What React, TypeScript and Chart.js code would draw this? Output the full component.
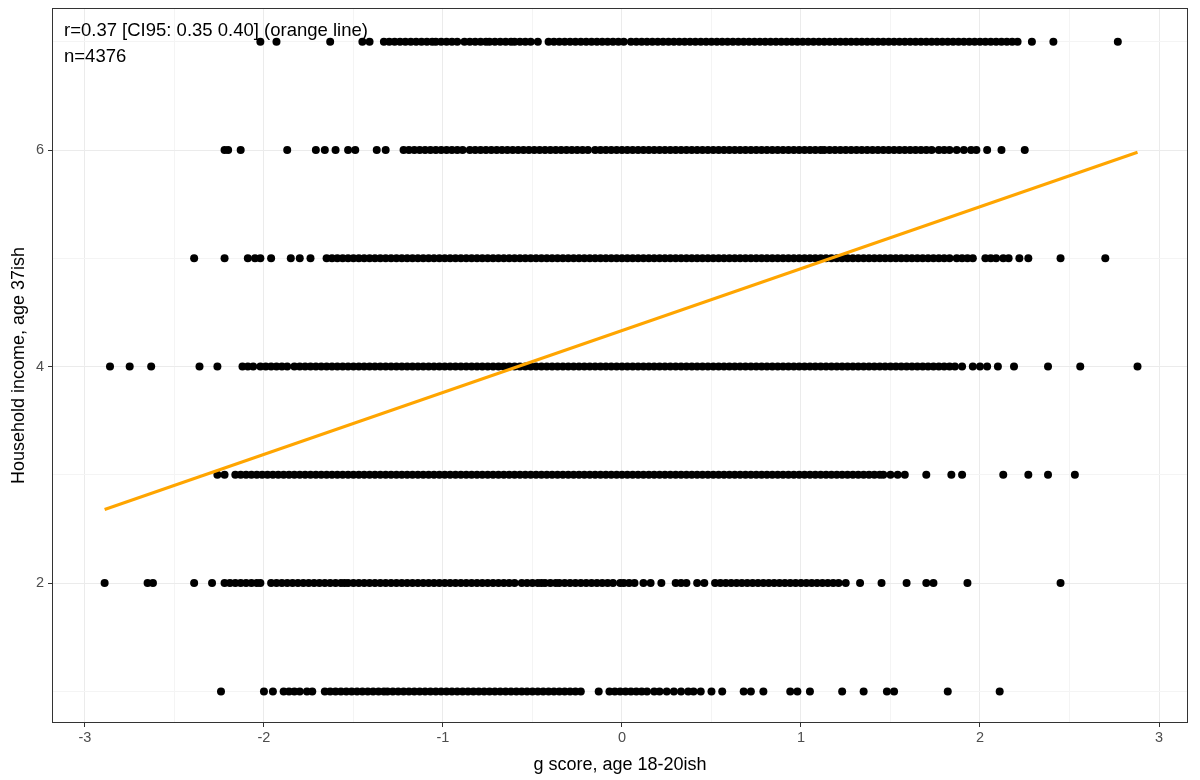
import React, { useEffect, useRef } from 'react';
import { Chart, registerables } from 'chart.js';

Chart.register(...registerables);

// Household income level (y) for each row of points
const incomeLevels = [1, 2, 3, 4, 5, 6, 7];

// g score values (x), one list per income level
const gIncome1 = [
  -2.24, -2.0, -1.95, -1.89, -1.86, -1.83, -1.8, -1.76, -1.73,
  -1.66, -1.63, -1.6, -1.57, -1.54, -1.51, -1.48, -1.45, -1.42, -1.39, -1.36, -1.33, -1.31,
  -1.28, -1.25, -1.22, -1.19, -1.16, -1.13, -1.1, -1.07, -1.04, -1.01, -0.98, -0.95, -0.92, -0.89, -0.86, -0.83, -0.8,
  -0.77, -0.74, -0.71, -0.68, -0.65, -0.62, -0.59, -0.56, -0.53, -0.5, -0.47, -0.44, -0.41, -0.38, -0.35, -0.32, -0.29, -0.26, -0.23,
  -0.13, -0.07, -0.04, -0.01, 0.02, 0.05, 0.08, 0.11, 0.14, 0.18, 0.21, 0.25, 0.29, 0.33, 0.37, 0.4, 0.44,
  0.5, 0.56, 0.68, 0.72, 0.79, 0.94, 0.98, 1.05, 1.23, 1.35, 1.48, 1.52, 1.82, 2.11,
];

const gIncome2 = [
  -2.89, -2.65, -2.62, -2.39, -2.29,
  -2.22, -2.19, -2.16, -2.13, -2.1, -2.07, -2.04, -2.02,
  -1.96, -1.93, -1.9, -1.87, -1.84, -1.81, -1.78,
  -1.75, -1.72, -1.69, -1.66, -1.63, -1.6, -1.57, -1.55,
  -1.53, -1.5, -1.47, -1.44, -1.41, -1.38, -1.35, -1.32, -1.29, -1.26, -1.23, -1.2, -1.17, -1.14, -1.11, -1.08,
  -1.05, -1.02, -0.99, -0.96, -0.93, -0.9, -0.87, -0.84, -0.81, -0.78, -0.75, -0.72, -0.69, -0.66, -0.63, -0.6,
  -0.56, -0.53, -0.5, -0.47, -0.45, -0.43, -0.4, -0.37, -0.35,
  -0.32, -0.29, -0.26, -0.23, -0.2, -0.17, -0.14, -0.11, -0.08, -0.05, -0.01,
  0.01, 0.04, 0.07, 0.12, 0.16, 0.22, 0.3, 0.33, 0.36, 0.42, 0.46,
  0.52, 0.55, 0.58, 0.61, 0.64, 0.67, 0.7, 0.73, 0.76, 0.79, 0.82, 0.85, 0.88, 0.91, 0.94, 0.97,
  1.0, 1.03, 1.06, 1.09, 1.12, 1.15, 1.18, 1.21, 1.25,
  1.33, 1.45, 1.59, 1.7, 1.74, 1.93, 2.45,
];

const gIncome3 = [
  -2.26, -2.22,
  -2.16, -2.13, -2.1, -2.07, -2.04, -2.01, -1.98, -1.95, -1.92, -1.89, -1.86, -1.83, -1.8,
  -1.77, -1.74, -1.71, -1.68, -1.65, -1.62, -1.59, -1.56, -1.53, -1.5, -1.47, -1.44, -1.41, -1.38, -1.35, -1.32,
  -1.29, -1.26, -1.23, -1.2, -1.17, -1.14, -1.11, -1.08, -1.05, -1.02, -0.99, -0.96, -0.93, -0.9, -0.87, -0.84,
  -0.81, -0.78, -0.75, -0.72, -0.69, -0.66, -0.63, -0.6, -0.57, -0.54, -0.51, -0.48, -0.45, -0.42, -0.39, -0.36,
  -0.33, -0.3, -0.27, -0.24, -0.21, -0.18, -0.15, -0.12, -0.09, -0.06, -0.03, 0.0, 0.03, 0.06, 0.09, 0.12,
  0.15, 0.18, 0.21, 0.24, 0.27, 0.3, 0.33, 0.36, 0.39, 0.42, 0.45, 0.48, 0.51, 0.54, 0.57, 0.6,
  0.63, 0.66, 0.69, 0.72, 0.75, 0.78, 0.81, 0.84, 0.87, 0.9, 0.93, 0.96, 0.99, 1.02, 1.05, 1.08,
  1.11, 1.14, 1.17, 1.2, 1.23, 1.26, 1.29, 1.32, 1.35, 1.38, 1.41, 1.44, 1.46,
  1.5, 1.54, 1.58, 1.7, 1.84, 1.9, 2.13, 2.27, 2.38, 2.53,
];

const gIncome4 = [
  -2.86, -2.75, -2.63, -2.36, -2.26,
  -2.12, -2.09, -2.06, -2.02, -1.99, -1.96, -1.93, -1.9, -1.87, -1.83, -1.8,
  -1.77, -1.74, -1.71, -1.68, -1.65, -1.62, -1.59, -1.56, -1.53, -1.5, -1.47, -1.44, -1.41, -1.38, -1.35, -1.32,
  -1.29, -1.26, -1.23, -1.2, -1.17, -1.14, -1.11, -1.08, -1.05, -1.02, -0.99, -0.96, -0.93, -0.9, -0.87, -0.84,
  -0.81, -0.78, -0.75, -0.72, -0.69, -0.66, -0.63, -0.6, -0.57, -0.54, -0.51, -0.48, -0.45, -0.42, -0.39, -0.36,
  -0.33, -0.3, -0.27, -0.24, -0.21, -0.18, -0.15, -0.12, -0.09, -0.06, -0.03, 0.0, 0.03, 0.06, 0.09, 0.12,
  0.15, 0.18, 0.21, 0.24, 0.27, 0.3, 0.33, 0.36, 0.39, 0.42, 0.45, 0.48, 0.51, 0.54, 0.57, 0.6,
  0.63, 0.66, 0.69, 0.72, 0.75, 0.78, 0.81, 0.84, 0.87, 0.9, 0.93, 0.96, 0.99, 1.02, 1.05, 1.08,
  1.11, 1.14, 1.17, 1.2, 1.23, 1.26, 1.29, 1.32, 1.35, 1.38, 1.41, 1.44, 1.47, 1.5, 1.53, 1.56,
  1.59, 1.62, 1.65, 1.68, 1.71, 1.74, 1.77, 1.8, 1.83, 1.86, 1.9,
  1.96, 2.0, 2.04, 2.1, 2.19, 2.38, 2.56, 2.88,
];

const gIncome5 = [
  -2.39, -2.22, -2.09, -2.05, -2.02, -1.96, -1.85, -1.8, -1.74,
  -1.65, -1.62, -1.59, -1.56, -1.53, -1.5, -1.47, -1.44, -1.41, -1.38, -1.35, -1.32,
  -1.29, -1.26, -1.23, -1.2, -1.17, -1.14, -1.11, -1.08, -1.05, -1.02, -0.99, -0.96, -0.93, -0.9, -0.87, -0.84,
  -0.81, -0.78, -0.75, -0.72, -0.69, -0.66, -0.63, -0.6, -0.57, -0.54, -0.51, -0.48, -0.45, -0.42, -0.39, -0.36,
  -0.33, -0.3, -0.27, -0.24, -0.21, -0.18, -0.15, -0.12, -0.09, -0.06, -0.03, 0.0, 0.03, 0.06, 0.09, 0.12,
  0.15, 0.18, 0.21, 0.24, 0.27, 0.3, 0.33, 0.36, 0.39, 0.42, 0.45, 0.48, 0.51, 0.54, 0.57, 0.6,
  0.63, 0.66, 0.69, 0.72, 0.75, 0.78, 0.81, 0.84, 0.87, 0.9, 0.93, 0.96, 0.99, 1.02, 1.05, 1.08,
  1.11, 1.14, 1.17, 1.2, 1.23, 1.26, 1.29, 1.32, 1.35, 1.38, 1.41, 1.44, 1.47, 1.5, 1.53, 1.56,
  1.59, 1.62, 1.65, 1.68, 1.71, 1.74, 1.77, 1.8, 1.83, 1.87,
  1.9, 1.93, 1.96, 2.03, 2.06, 2.09, 2.13, 2.16, 2.22, 2.27, 2.45, 2.7,
];

const gIncome6 = [
  -2.22, -2.2, -2.13, -1.87, -1.71, -1.66, -1.6, -1.53, -1.49, -1.37, -1.32,
  -1.22, -1.19, -1.16, -1.13, -1.1, -1.07, -1.04, -1.01, -0.98, -0.95, -0.92, -0.89,
  -0.85, -0.82, -0.79, -0.76, -0.73, -0.7, -0.67, -0.64, -0.61, -0.58, -0.55, -0.52, -0.49, -0.46,
  -0.43, -0.4, -0.37, -0.34, -0.31, -0.28, -0.25, -0.22, -0.19,
  -0.15, -0.12, -0.09, -0.06, -0.03, 0.0, 0.03, 0.06, 0.09, 0.12, 0.15, 0.18, 0.21, 0.24, 0.27, 0.3,
  0.33, 0.36, 0.39, 0.42, 0.45, 0.48, 0.51, 0.54, 0.57, 0.6, 0.63, 0.66, 0.69, 0.72, 0.75, 0.78,
  0.81, 0.84, 0.87, 0.9, 0.93, 0.96, 0.99, 1.02, 1.05, 1.08, 1.11, 1.13,
  1.16, 1.19, 1.22, 1.25, 1.28, 1.31, 1.34, 1.37, 1.4, 1.43, 1.46, 1.49, 1.52, 1.55, 1.58, 1.61,
  1.64, 1.67, 1.7, 1.73,
  1.77, 1.8, 1.83, 1.87, 1.91, 1.95, 1.98, 2.04, 2.12, 2.25,
];

const gIncome7 = [
  -2.02, -1.93, -1.63, -1.45, -1.41,
  -1.33, -1.3, -1.27, -1.24, -1.21, -1.18, -1.15, -1.12, -1.09, -1.06,
  -1.04, -1.01, -0.98, -0.95, -0.92,
  -0.88, -0.85, -0.82, -0.79, -0.76,
  -0.74, -0.71, -0.68, -0.65, -0.62, -0.6,
  -0.57, -0.54, -0.51, -0.47,
  -0.41, -0.38, -0.35, -0.32, -0.29, -0.26, -0.23, -0.2, -0.17, -0.14, -0.11, -0.08, -0.05, -0.02, 0.01, 0.05,
  0.08, 0.11, 0.14, 0.17, 0.2, 0.23, 0.26, 0.29, 0.32, 0.35, 0.38, 0.41, 0.44, 0.47, 0.5, 0.53,
  0.56, 0.59, 0.62, 0.65, 0.68, 0.71, 0.74, 0.77, 0.8, 0.83, 0.86, 0.89, 0.92, 0.95, 0.98, 1.01,
  1.04, 1.07, 1.1, 1.13, 1.16, 1.19, 1.22, 1.25, 1.28, 1.31, 1.34, 1.37, 1.4, 1.43, 1.46, 1.49,
  1.52, 1.55, 1.58, 1.61, 1.64, 1.67, 1.7, 1.73, 1.76, 1.79, 1.82, 1.85, 1.88, 1.91, 1.94, 1.97,
  2.0, 2.03, 2.06, 2.09, 2.12, 2.15, 2.18, 2.21,
  2.29, 2.41, 2.77,
];

const gByIncome = [gIncome1, gIncome2, gIncome3, gIncome4, gIncome5, gIncome6, gIncome7];

// fitted regression line (orange)
const fitX = [-2.89, 2.88];
const fitY = [2.68, 5.98];

// axes
const xMajorTicks = [-3, -2, -1, 0, 1, 2, 3];
const xMinorTicks = [-2.5, -1.5, -0.5, 0.5, 1.5, 2.5];
const yMajorTicks = [2, 4, 6];
const yMinorTicks = [1, 3, 5, 7];
const xRange = [-3.184, 3.162];
const yRange = [0.708, 7.312];

const xTitle = 'g score, age 18-20ish';
const yTitle = 'Household income, age 37ish';
const annotationLines = ['r=0.37 [CI95: 0.35 0.40] (orange line)', 'n=4376'];

const FONT = "'Liberation Sans', Arial, Helvetica, sans-serif";

export default function App() {
  const canvasRef = useRef<HTMLCanvasElement | null>(null);

  useEffect(() => {
    const canvas = canvasRef.current;
    if (!canvas) return;

    const points = incomeLevels.flatMap((lvl, i) => gByIncome[i].map((x) => ({ x, y: lvl })));
    const fitLine = fitX.map((x, i) => ({ x, y: fitY[i] }));

    const annotationPlugin = {
      id: 'annotationText',
      beforeDatasetsDraw(chart: any) {
        const ctx = chart.ctx;
        ctx.save();
        ctx.font = `18.5px ${FONT}`;
        ctx.fillStyle = '#000000';
        ctx.textAlign = 'left';
        ctx.textBaseline = 'middle';
        ctx.fillText(annotationLines[0], 64, 31);
        ctx.fillText(annotationLines[1], 64, 57);
        ctx.restore();
      },
    };

    const borderPlugin = {
      id: 'panelBorder',
      afterDatasetsDraw(chart: any) {
        const { ctx, chartArea } = chart;
        ctx.save();
        ctx.strokeStyle = '#333333';
        ctx.lineWidth = 1;
        ctx.strokeRect(
          Math.round(chartArea.left) + 0.5,
          Math.round(chartArea.top) + 0.5,
          Math.round(chartArea.right - chartArea.left) - 1,
          Math.round(chartArea.bottom - chartArea.top) - 1
        );
        ctx.restore();
      },
    };

    const chart = new Chart(canvas, {
      type: 'scatter',
      data: {
        datasets: [
          {
            type: 'line',
            label: 'fit',
            data: fitLine,
            borderColor: '#FFA500',
            borderWidth: 3,
            pointRadius: 0,
            fill: false,
          } as any,
          {
            label: 'people',
            data: points,
            backgroundColor: '#000000',
            borderColor: '#000000',
            borderWidth: 0,
            pointRadius: 4,
            pointHoverRadius: 4,
          },
        ],
      },
      options: {
        responsive: false,
        animation: false,
        events: [],
        layout: { padding: { top: 8, right: 12, bottom: 0, left: 0 } },
        plugins: {
          legend: { display: false },
          tooltip: { enabled: false },
        },
        scales: {
          x: {
            type: 'linear',
            min: xRange[0],
            max: xRange[1],
            afterBuildTicks: (scale: any) => {
              scale.ticks = [...xMajorTicks, ...xMinorTicks]
                .sort((a, b) => a - b)
                .map((v) => ({ value: v }));
            },
            afterFit: (scale: any) => {
              scale.height = 57;
              scale.paddingLeft = 0;
              scale.paddingRight = 0;
            },
            ticks: {
              autoSkip: false,
              maxRotation: 0,
              padding: 2,
              color: '#4D4D4D',
              font: { family: FONT, size: 14.5 },
              callback: (v: any) => (xMajorTicks.includes(Number(v)) ? String(v) : ''),
            },
            grid: {
              drawTicks: true,
              tickLength: 4,
              color: (c: any) => (xMajorTicks.includes(c.tick?.value) ? '#EBEBEB' : '#F4F4F4'),
              tickColor: (c: any) => (xMajorTicks.includes(c.tick?.value) ? '#333333' : 'rgba(0,0,0,0)'),
              lineWidth: 1,
            },
            border: { display: false },
            title: {
              display: true,
              text: xTitle,
              color: '#000000',
              font: { family: FONT, size: 18 },
              padding: { top: 0, bottom: 4 },
            },
          },
          y: {
            type: 'linear',
            min: yRange[0],
            max: yRange[1],
            afterBuildTicks: (scale: any) => {
              scale.ticks = [...yMajorTicks, ...yMinorTicks]
                .sort((a, b) => a - b)
                .map((v) => ({ value: v }));
            },
            afterFit: (scale: any) => {
              scale.width = 52;
              scale.paddingTop = 0;
              scale.paddingBottom = 0;
            },
            ticks: {
              autoSkip: false,
              padding: 4,
              color: '#4D4D4D',
              font: { family: FONT, size: 14.5 },
              callback: (v: any) => (yMajorTicks.includes(Number(v)) ? String(v) : ''),
            },
            grid: {
              drawTicks: true,
              tickLength: 4,
              color: (c: any) => (yMajorTicks.includes(c.tick?.value) ? '#EBEBEB' : '#F4F4F4'),
              tickColor: (c: any) => (yMajorTicks.includes(c.tick?.value) ? '#333333' : 'rgba(0,0,0,0)'),
              lineWidth: 1,
            },
            border: { display: false },
            title: {
              display: true,
              text: yTitle,
              color: '#000000',
              font: { family: FONT, size: 18 },
              padding: { top: 8, bottom: 0 },
            },
          },
        },
      },
      plugins: [annotationPlugin, borderPlugin],
    });

    return () => {
      chart.destroy();
    };
  }, []);

  return (
    <div style={{ position: 'fixed', left: 0, top: 0, width: 1200, height: 780, background: '#ffffff' }}>
      <canvas ref={canvasRef} width={1200} height={780} style={{ width: 1200, height: 780, display: 'block' }} />
    </div>
  );
}
